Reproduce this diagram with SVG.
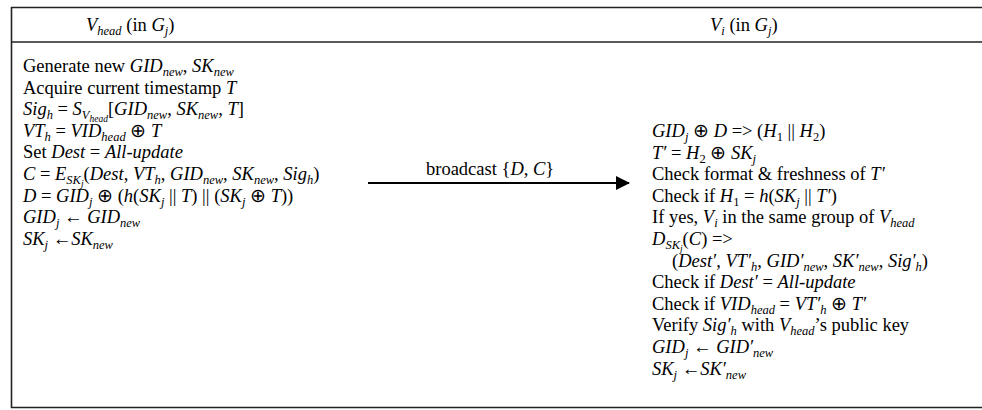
<svg xmlns="http://www.w3.org/2000/svg" width="982" height="410" viewBox="0 0 982 410">
<style>
text{font-family:"Liberation Serif","Times New Roman",serif;font-size:18.5px;fill:#000}
.i{font-style:italic}
.s{font-size:12.5px}
.ss{font-size:9.5px}
.rule{stroke:#222;stroke-width:1.6;fill:none}
</style>
<defs>
<marker id="ah" markerWidth="14" markerHeight="14" refX="13" refY="7" orient="auto" markerUnits="userSpaceOnUse">
<polygon points="0,0 14,7 0,14" fill="#000"/>
</marker>
</defs>
<rect width="982" height="410" fill="#fff"/>
<g id="frame">
<line class="rule" x1="11" y1="7.5" x2="982" y2="7.5"/>
<line class="rule" x1="11" y1="42" x2="982" y2="42"/>
<line class="rule" x1="11" y1="407.5" x2="982" y2="407.5"/>
<line class="rule" x1="11.5" y1="7" x2="11.5" y2="408"/>
</g>
<g id="vhead-header">
<text x="86" y="31"><tspan class="i">V</tspan><tspan class="s i" dy="4">head</tspan><tspan dy="-4"> (in </tspan><tspan class="i">G</tspan><tspan class="s i" dy="4">j</tspan><tspan dy="-4">)</tspan></text>
</g>
<g id="vi-header">
<text x="710" y="31"><tspan class="i">V</tspan><tspan class="s i" dy="4">i</tspan><tspan dy="-4"> (in </tspan><tspan class="i">G</tspan><tspan class="s i" dy="4">j</tspan><tspan dy="-4">)</tspan></text>
</g>
<g id="vhead-steps">
<text x="23" y="72">Generate new <tspan class="i">GID</tspan><tspan class="s i" dy="4">new</tspan><tspan dy="-4">, </tspan><tspan class="i">SK</tspan><tspan class="s i" dy="4">new</tspan></text>
<text x="23" y="93.6">Acquire current timestamp <tspan class="i">T</tspan></text>
<text x="23" y="115.2"><tspan class="i">Sig</tspan><tspan class="s i" dy="4">h</tspan><tspan dy="-4"> = </tspan><tspan class="i">S</tspan><tspan class="s i" dy="4">V</tspan><tspan class="ss i" dy="3">head</tspan><tspan dy="-7">[</tspan><tspan class="i">GID</tspan><tspan class="s i" dy="4">new</tspan><tspan dy="-4">, </tspan><tspan class="i">SK</tspan><tspan class="s i" dy="4">new</tspan><tspan dy="-4">, </tspan><tspan class="i">T</tspan><tspan>]</tspan></text>
<text x="23" y="136.8"><tspan class="i">VT</tspan><tspan class="s i" dy="4">h</tspan><tspan dy="-4"> = </tspan><tspan class="i">VID</tspan><tspan class="s i" dy="4">head</tspan><tspan dy="-4"> ⊕ </tspan><tspan class="i">T</tspan></text>
<text x="23" y="158.4">Set <tspan class="i">Dest</tspan> = <tspan class="i">All-update</tspan></text>
<text x="23" y="180"><tspan class="i">C</tspan> = <tspan class="i">E</tspan><tspan class="s i" dy="4">SK</tspan><tspan class="ss i" dy="3">j</tspan><tspan dy="-7">(</tspan><tspan class="i">Dest</tspan>, <tspan class="i">VT</tspan><tspan class="s i" dy="4">h</tspan><tspan dy="-4">, </tspan><tspan class="i">GID</tspan><tspan class="s i" dy="4">new</tspan><tspan dy="-4">, </tspan><tspan class="i">SK</tspan><tspan class="s i" dy="4">new</tspan><tspan dy="-4">, </tspan><tspan class="i">Sig</tspan><tspan class="s i" dy="4">h</tspan><tspan dy="-4">)</tspan></text>
<text x="23" y="201.6"><tspan class="i">D</tspan> = <tspan class="i">GID</tspan><tspan class="s i" dy="4">j</tspan><tspan dy="-4"> ⊕ (</tspan><tspan class="i">h</tspan>(<tspan class="i">SK</tspan><tspan class="s i" dy="4">j</tspan><tspan dy="-4"> || </tspan><tspan class="i">T</tspan>) || (<tspan class="i">SK</tspan><tspan class="s i" dy="4">j</tspan><tspan dy="-4"> ⊕ </tspan><tspan class="i">T</tspan>))</text>
<text x="23" y="223.2"><tspan class="i">GID</tspan><tspan class="s i" dy="4">j</tspan><tspan dy="-4"> ← </tspan><tspan class="i">GID</tspan><tspan class="s i" dy="4">new</tspan></text>
<text x="23" y="244.8"><tspan class="i">SK</tspan><tspan class="s i" dy="4">j</tspan><tspan dy="-4"> ←</tspan><tspan class="i">SK</tspan><tspan class="s i" dy="4">new</tspan></text>
</g>
<g id="vi-steps">
<text x="652" y="137"><tspan class="i">GID</tspan><tspan class="s i" dy="4">j</tspan><tspan dy="-4"> ⊕ </tspan><tspan class="i">D</tspan> =&gt; (<tspan class="i">H</tspan><tspan class="s" dy="4">1</tspan><tspan dy="-4"> || </tspan><tspan class="i">H</tspan><tspan class="s" dy="4">2</tspan><tspan dy="-4">)</tspan></text>
<text x="652" y="158.6"><tspan class="i">T′</tspan> = <tspan class="i">H</tspan><tspan class="s" dy="4">2</tspan><tspan dy="-4"> ⊕ </tspan><tspan class="i">SK</tspan><tspan class="s i" dy="4">j</tspan></text>
<text x="652" y="180.2">Check format &amp; freshness of <tspan class="i">T′</tspan></text>
<text x="652" y="201.8">Check if <tspan class="i">H</tspan><tspan class="s" dy="4">1</tspan><tspan dy="-4"> = </tspan><tspan class="i">h</tspan>(<tspan class="i">SK</tspan><tspan class="s i" dy="4">j</tspan><tspan dy="-4"> || </tspan><tspan class="i">T′</tspan>)</text>
<text x="652" y="223.4">If yes, <tspan class="i">V</tspan><tspan class="s i" dy="4">i</tspan><tspan dy="-4"> in the same group of </tspan><tspan class="i">V</tspan><tspan class="s i" dy="4">head</tspan></text>
<text x="652" y="245"><tspan class="i">D</tspan><tspan class="s i" dy="4">SK</tspan><tspan class="ss i" dy="3">j</tspan><tspan dy="-7">(</tspan><tspan class="i">C</tspan>) =&gt;</text>
<text x="672" y="266.6">(<tspan class="i">Dest′</tspan>, <tspan class="i">VT′</tspan><tspan class="s i" dy="4">h</tspan><tspan dy="-4">, </tspan><tspan class="i">GID′</tspan><tspan class="s i" dy="4">new</tspan><tspan dy="-4">, </tspan><tspan class="i">SK′</tspan><tspan class="s i" dy="4">new</tspan><tspan dy="-4">, </tspan><tspan class="i">Sig′</tspan><tspan class="s i" dy="4">h</tspan><tspan dy="-4">)</tspan></text>
<text x="652" y="288.2">Check if <tspan class="i">Dest′</tspan> = <tspan class="i">All-update</tspan></text>
<text x="652" y="309.8">Check if <tspan class="i">VID</tspan><tspan class="s i" dy="4">head</tspan><tspan dy="-4"> = </tspan><tspan class="i">VT′</tspan><tspan class="s i" dy="4">h</tspan><tspan dy="-4"> ⊕ </tspan><tspan class="i">T′</tspan></text>
<text x="652" y="331.4">Verify <tspan class="i">Sig′</tspan><tspan class="s i" dy="4">h</tspan><tspan dy="-4"> with </tspan><tspan class="i">V</tspan><tspan class="s i" dy="4">head</tspan><tspan dy="-4">’s public key</tspan></text>
<text x="652" y="353"><tspan class="i">GID</tspan><tspan class="s i" dy="4">j</tspan><tspan dy="-4"> ← </tspan><tspan class="i">GID′</tspan><tspan class="s i" dy="4">new</tspan></text>
<text x="652" y="374.6"><tspan class="i">SK</tspan><tspan class="s i" dy="4">j</tspan><tspan dy="-4"> ←</tspan><tspan class="i">SK′</tspan><tspan class="s i" dy="4">new</tspan></text>
</g>
<g id="connectors">
<line x1="368" y1="183" x2="629" y2="183" stroke="#000" stroke-width="2" marker-end="url(#ah)"/>
<text x="426" y="175">broadcast {<tspan class="i">D</tspan>, <tspan class="i">C</tspan>}</text>
</g>
</svg>
